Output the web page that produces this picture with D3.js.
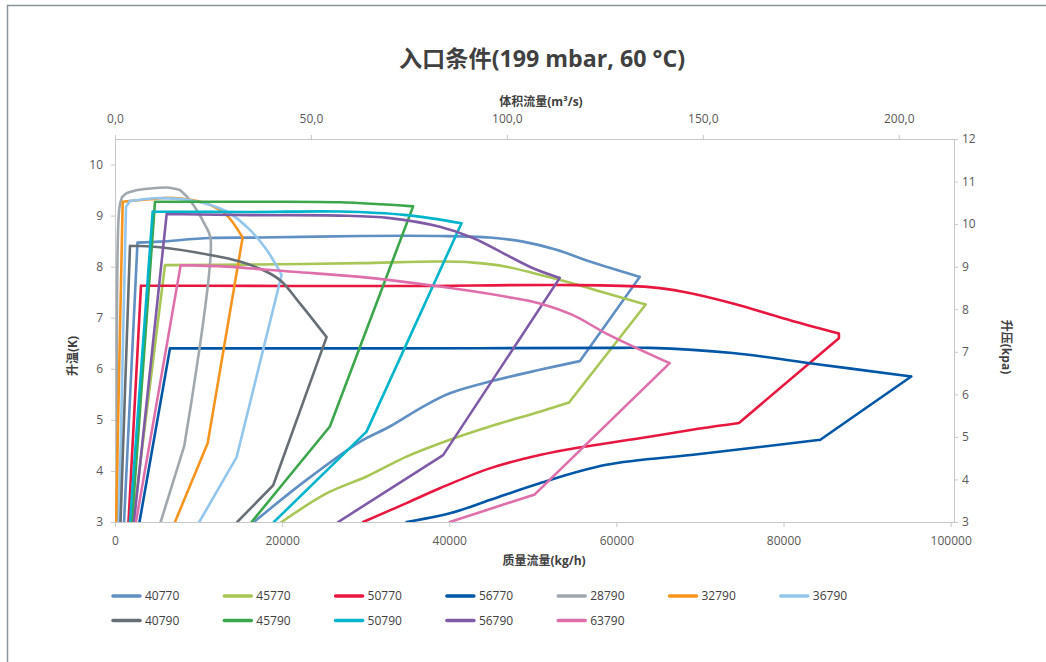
<!DOCTYPE html>
<html><head><meta charset="utf-8">
<script src="https://cdn.jsdelivr.net/npm/d3@7"></script>
<style>
body{margin:0;background:#fff}
text{font-family:"Open Sans","Noto Sans CJK SC",sans-serif}
</style>
</head><body>
<svg id="c" width="1046" height="662"></svg>
<script>
// ---- data (mass flow kg/h, temperature rise K) ----
const seriesNames = ["40770","45770","50770","56770","28790","32790","36790","40790","45790","50790","56790","63790"];
const seriesColors = ["#5f8fc3","#a8c656","#e8173f","#0056a6","#a0a8af","#f7941d","#93c6ec","#676f76","#3ba64b","#00b4cb","#7f5ba7","#de6fab"];

const s40770 = [[1080,3],[2691,8.47],[5382,8.49],[11362,8.56],[17342,8.57],[29302,8.60],[38870,8.60],[44850,8.57],[48833,8.49],[52827,8.33],[56810,8.10],[62790,7.80],[55614,6.15],[50830,5.98],[44850,5.75],[40066,5.52],[36873,5.26],[32890,4.87],[29302,4.57],[22724,3.80],[16624,3]];
const s45770 = [[2150,3],[5980,8.03],[16146,8.04],[29302,8.07],[38870,8.10],[42853,8.08],[46847,8.00],[50830,7.84],[54813,7.67],[58807,7.48],[63508,7.26],[54334,5.34],[50830,5.16],[44850,4.87],[40066,4.61],[34887,4.28],[30103,3.89],[25319,3.56],[19937,3]];
const s50770 = [[1615,3],[3110,7.63],[34086,7.62],[53222,7.64],[63986,7.60],[67969,7.51],[73949,7.28],[79929,6.99],[86626,6.69],[86626,6.60],[74666,4.94],[69966,4.83],[62790,4.64],[55614,4.46],[50830,4.31],[44850,4.05],[38870,3.66],[34887,3.37],[29697,3]];
const s56770 = [[2930,3],[6578,6.40],[34086,6.40],[60398,6.41],[63986,6.41],[73913,6.31],[83122,6.11],[95285,5.85],[84402,4.61],[69966,4.33],[58807,4.12],[50830,3.76],[44850,3.43],[40066,3.17],[34887,3]];
const s28790 = [[300,3],[514,9.14],[837,9.36],[1399,9.44],[2392,9.49],[4186,9.53],[6183,9.55],[7774,9.50],[8767,9.34],[9771,9.11],[10764,8.82],[11446,8.54],[8288,4.49],[5466,3]];
const s32790 = [[120,3],[921,9.27],[4186,9.32],[6578,9.35],[9365,9.30],[11362,9.21],[13359,9.01],[15273,8.57],[11087,4.54],[7176,3]];
const s36790 = [[480,3],[1316,9.17],[1794,9.29],[2595,9.30],[4581,9.34],[9365,9.29],[13359,9.08],[16146,8.72],[18143,8.33],[19937,7.84],[14555,4.27],[10082,3]];
const s40790 = [[660,3],[1794,8.41],[5382,8.38],[11362,8.23],[14950,8.10],[18143,7.90],[19937,7.71],[22126,7.28],[25319,6.62],[18933,3.72],[14627,3]];
const s45790 = [[2030,3],[4784,9.27],[16146,9.27],[26910,9.26],[35677,9.18],[25714,4.87],[16349,3]];
const s50790 = [[1795,3],[4509,9.08],[16146,9.07],[26910,9.08],[34887,9.01],[41465,8.85],[30103,4.77],[19016,3]];
const s56790 = [[2270,3],[6183,9.03],[16146,9.01],[26910,9.00],[32890,8.95],[38870,8.78],[42853,8.56],[46847,8.23],[50029,7.97],[53222,7.78],[39265,4.31],[26707,3]];
const s63790 = [[2510,3],[7858,8.03],[13359,8.00],[21324,7.90],[29302,7.80],[38870,7.61],[46847,7.41],[50830,7.28],[54813,7.05],[58807,6.69],[66378,6.11],[50232,3.54],[40066,3]];
const seriesData = [s40770,s45770,s50770,s56770,s28790,s32790,s36790,s40790,s45790,s50790,s56790,s63790];

const xTicks = [0,20000,40000,60000,80000,100000];
const xTopTicks = [0,50,100,150,200];
const yLeftTicks = [3,4,5,6,7,8,9,10];
const yRightTicks = [3,4,5,6,7,8,9,10,11,12];

const title = "入口条件(199 mbar, 60 °C)";
const xTitle = "质量流量(kg/h)";
const xTopTitle = "体积流量(m³/s)";
const yLeftTitle = "升温(K)";
const yRightTitle = "升压(kpa)";

// ---- layout ----
const W = 1046, H = 662;
const L = 115, R = 954, T = 139, B = 522;
const svg = d3.select("#c");
svg.append("rect").attr("width", W).attr("height", H).attr("fill", "#fff");
svg.append("path").attr("d", "M7.5,662V5.5H1046").attr("fill", "none")
  .attr("stroke", "#8a949b").attr("stroke-width", 1.5);

const x = d3.scaleLinear().domain([0, 100400]).range([L, R]);
const xTop = d3.scaleLinear().domain([0, 214.1]).range([L, R]);
const yL = d3.scaleLinear().domain([3, 10.5]).range([B, T]);
const yR = d3.scaleLinear().domain([3, 12]).range([B, T]);

const axisColor = "#c8c8c8", labelColor = "#595959";
function styleAxis(g) {
  g.selectAll("path.domain").attr("stroke", axisColor).attr("stroke-width", 1);
  g.selectAll(".tick line").attr("stroke", axisColor);
  g.selectAll(".tick text").attr("fill", labelColor).attr("font-size", 12)
    .style("font-family", '"Open Sans","Noto Sans CJK SC",sans-serif');
}
const comma1 = d => d3.format(".1f")(d).replace(".", ",");

svg.append("g").attr("transform", `translate(0,${B})`)
  .call(d3.axisBottom(x).tickValues(xTicks).tickFormat(d => d).tickSize(5).tickSizeOuter(0).tickPadding(9))
  .call(styleAxis);
svg.append("g").attr("transform", `translate(0,${T})`)
  .call(d3.axisTop(xTop).tickValues(xTopTicks).tickFormat(comma1).tickSize(4).tickSizeOuter(0).tickPadding(12))
  .call(styleAxis);
svg.append("g").attr("transform", `translate(${L},0)`)
  .call(d3.axisLeft(yL).tickValues(yLeftTicks).tickFormat(d => d).tickSize(4).tickSizeOuter(0).tickPadding(8))
  .call(styleAxis);
svg.append("g").attr("transform", `translate(${R},0)`)
  .call(d3.axisRight(yR).tickValues(yRightTicks).tickFormat(d => d).tickSize(4).tickSizeOuter(0).tickPadding(4))
  .call(styleAxis);

// titles
svg.append("text").attr("x", 542).attr("y", 67).attr("text-anchor", "middle")
  .attr("font-size", 23.2).attr("font-weight", "bold").attr("fill", "#404040").text(title);
svg.append("text").attr("x", 541).attr("y", 106).attr("text-anchor", "middle")
  .attr("font-size", 12).attr("font-weight", "bold").attr("fill", "#404040").text(xTopTitle);
svg.append("text").attr("x", 544).attr("y", 565).attr("text-anchor", "middle")
  .attr("font-size", 12).attr("font-weight", "bold").attr("fill", "#404040").text(xTitle);
svg.append("text").attr("transform", "translate(77,356) rotate(-90)").attr("text-anchor", "middle")
  .attr("font-size", 12).attr("font-weight", "bold").attr("fill", "#404040").text(yLeftTitle);
svg.append("text").attr("transform", "translate(1002,347) rotate(90)").attr("text-anchor", "middle")
  .attr("font-size", 12).attr("font-weight", "bold").attr("fill", "#404040").text(yRightTitle);

// clip
svg.append("clipPath").attr("id", "plot").append("rect")
  .attr("x", L).attr("y", T).attr("width", R - L).attr("height", B - T);

// Split each series at corners (in screen space), smooth the runs between them
function pieces(s) {
  const p = s.map(d => [x(d[0]), yL(d[1])]);
  const cuts = [0];
  for (let i = 1; i < p.length - 1; i++) {
    const a = [p[i][0] - p[i-1][0], p[i][1] - p[i-1][1]];
    const b = [p[i+1][0] - p[i][0], p[i+1][1] - p[i][1]];
    const la = Math.hypot(...a), lb = Math.hypot(...b);
    const ang = Math.acos(Math.max(-1, Math.min(1, (a[0]*b[0] + a[1]*b[1]) / (la * lb || 1)))) * 180 / Math.PI;
    if (ang > 30 || ang * Math.min(la, lb) > 700) cuts.push(i);
  }
  cuts.push(p.length - 1);
  const out = [];
  for (let k = 0; k < cuts.length - 1; k++) out.push(s.slice(cuts[k], cuts[k+1] + 1));
  return out;
}
const line = d3.line().x(d => x(d[0])).y(d => yL(d[1])).curve(d3.curveCatmullRom.alpha(0.5));
const gLines = svg.append("g").attr("clip-path", "url(#plot)");
seriesData.forEach((s, i) => {
  const d = pieces(s).map(pc => line(pc)).join("");
  gLines.append("path").attr("d", d).attr("fill", "none")
    .attr("stroke", seriesColors[i]).attr("stroke-width", 2.6)
    .attr("stroke-linejoin", "round").attr("stroke-linecap", "round");
});

// legend
seriesNames.forEach((n, i) => {
  const row = i < 7 ? 0 : 1, col = i < 7 ? i : i - 7;
  const lx = 113 + col * 111.3, ly = 596 + row * 24.5;
  svg.append("line").attr("x1", lx).attr("x2", lx + 27).attr("y1", ly).attr("y2", ly)
    .attr("stroke", seriesColors[i]).attr("stroke-width", 3.5).attr("stroke-linecap", "round");
  svg.append("text").attr("x", lx + 32).attr("y", ly).attr("dy", "0.36em")
    .attr("font-size", 12).attr("fill", "#404040").text(n);
});
</script>
</body></html>
